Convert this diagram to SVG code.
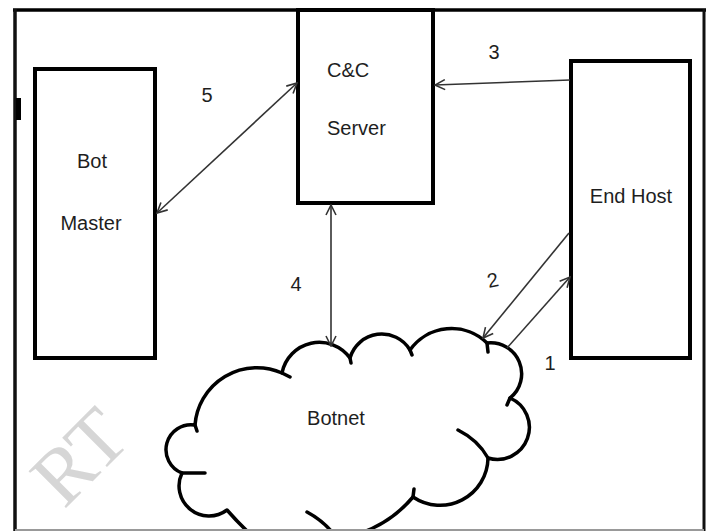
<svg xmlns="http://www.w3.org/2000/svg" width="712" height="531" viewBox="0 0 712 531">
  <style>
    .box { fill: #fff; stroke: #000; stroke-width: 4; }
    .lbl { font-family: "Liberation Sans", Arial, sans-serif; font-size: 20px; fill: #1e1e1e; }
    .num { font-family: "Liberation Sans", Arial, sans-serif; font-size: 20px; fill: #1e1e1e; }
    .conn { stroke: #333; stroke-width: 1.6; fill: none; }
    .cloud { fill: #fff; stroke: #000; stroke-width: 3.5; stroke-linejoin: round; }
    .tail { fill: none; stroke: #000; stroke-width: 3.5; stroke-linecap: round; }
  </style>
  <defs>
    <marker id="arr" viewBox="0 0 12 12" refX="11" refY="6" markerWidth="12" markerHeight="12" markerUnits="userSpaceOnUse" orient="auto-start-reverse">
      <path d="M1,1 L11,6 L1,11" fill="none" stroke="#333" stroke-width="1.6"/>
    </marker>
  </defs>
  <rect x="0" y="0" width="712" height="531" fill="#fff"/>

  <!-- watermark -->
  <text x="64" y="510" transform="rotate(-45 64 510)" font-family="Liberation Serif, Times New Roman, serif" font-size="80" fill="#cccccc" fill-opacity="0.8">RT</text>

  <!-- frame -->
  <g id="frame">
    <line x1="13" y1="10" x2="706" y2="10" stroke="#000" stroke-width="3.5"/>
    <line x1="15" y1="9" x2="15" y2="531" stroke="#111" stroke-width="3.5"/>
    <line x1="704" y1="9" x2="704" y2="531" stroke="#111" stroke-width="3"/>
    <rect x="16" y="98" width="5" height="22" fill="#000"/>
  </g>

  <!-- Botnet cloud -->
  <g id="botnet">
    <path class="cloud" d="M282,373 A38,38 0 0 1 350,358 A33,33 0 0 1 410,350 A51,51 0 0 1 487,343 A31,31 0 0 1 510,398 A32,32 0 0 1 488,458 A48,48 0 0 1 413,497 A120,120 0 0 1 358,534 L340,555 L285,560 C270,555 240,525 227,510 A30,30 0 0 1 182,473 A25,25 0 0 1 195,425 A62,62 0 0 1 282,373 Z"/>
    <path class="tail" d="M282,373 l8,4 M350,358 l1,5 M410,350 l2,5 M487,343 l1,9 M510,398 l-3,7 M458,430 Q478,440 488,458 M413,497 l1,-8 M182,473 L205,473 M195,425 l2,6 M307,512 Q322,520 333,533"/>
    <text class="lbl" x="336" y="425" text-anchor="middle">Botnet</text>
  </g>
  <line x1="15" y1="530" x2="704" y2="530" stroke="#999" stroke-width="2"/>

  <!-- Bot Master -->
  <g id="botmaster">
    <rect class="box" x="35" y="69" width="120" height="289"/>
    <text class="lbl" x="92" y="168" text-anchor="middle">Bot</text>
    <text class="lbl" x="91" y="230" text-anchor="middle">Master</text>
  </g>

  <!-- C&C Server -->
  <g id="ccserver">
    <rect class="box" x="298" y="10" width="135" height="193"/>
    <text class="lbl" x="327" y="77">C&amp;C</text>
    <text class="lbl" x="327" y="135">Server</text>
  </g>

  <!-- End Host -->
  <g id="endhost">
    <rect class="box" x="571" y="61" width="119" height="297"/>
    <text class="lbl" x="631" y="203" text-anchor="middle">End Host</text>
  </g>

  <!-- connectors -->
  <g id="connectors">
    <line class="conn" x1="157" y1="213" x2="297" y2="83" marker-start="url(#arr)" marker-end="url(#arr)"/>
    <line class="conn" x1="570" y1="80" x2="435" y2="85" marker-end="url(#arr)"/>
    <line class="conn" x1="331" y1="205" x2="331" y2="346" marker-start="url(#arr)" marker-end="url(#arr)"/>
    <line class="conn" x1="569" y1="233" x2="483" y2="338" marker-end="url(#arr)"/>
    <line class="conn" x1="507" y1="348" x2="570" y2="277" marker-end="url(#arr)"/>
    <text class="num" x="207" y="102" text-anchor="middle">5</text>
    <text class="num" x="494" y="59" text-anchor="middle">3</text>
    <text class="num" x="296" y="291" text-anchor="middle">4</text>
    <text class="num" x="493" y="287" text-anchor="middle" transform="rotate(-12 493 281)">2</text>
    <text class="num" x="550" y="370" text-anchor="middle">1</text>
  </g>
</svg>
